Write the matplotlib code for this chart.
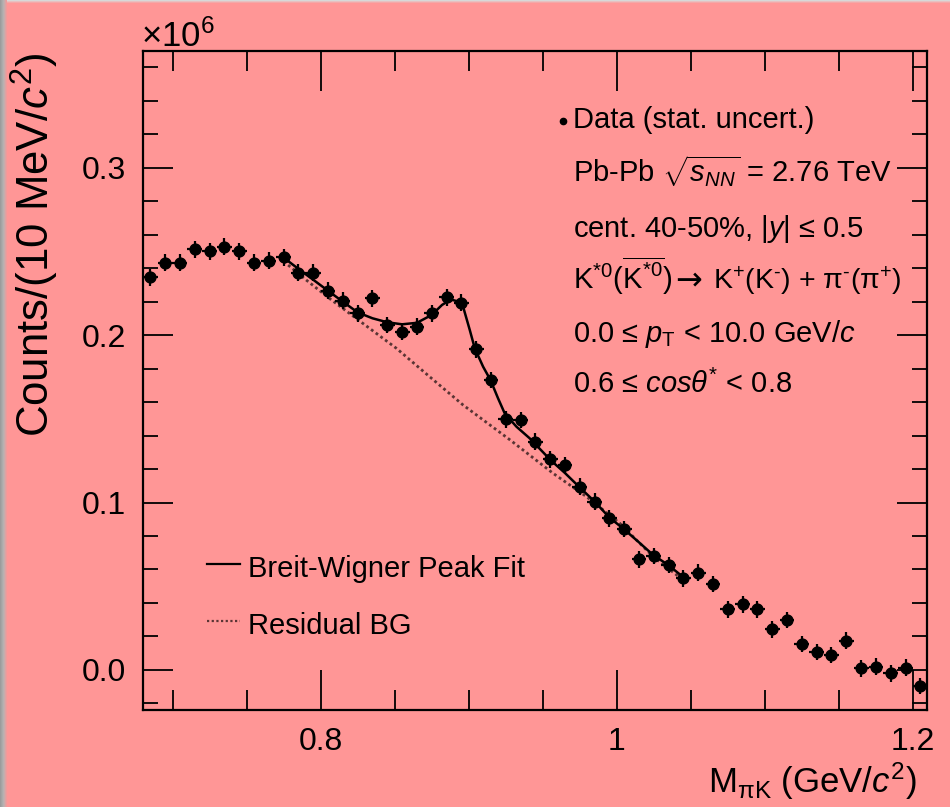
import numpy as np
import matplotlib
matplotlib.use('Agg')
import matplotlib.pyplot as plt
from matplotlib.ticker import FixedLocator, FixedFormatter
from matplotlib.patches import Rectangle

plt.rcParams['font.family'] = ['Liberation Sans', 'DejaVu Sans']
plt.rcParams['mathtext.fontset'] = 'custom'
plt.rcParams['mathtext.rm'] = 'Liberation Sans'
plt.rcParams['mathtext.it'] = 'Liberation Sans:italic'
plt.rcParams['mathtext.bf'] = 'Liberation Sans:bold'
plt.rcParams['mathtext.sf'] = 'Liberation Sans'

# ---------------- data (counts in units of 10^6) ----------------
mass = [0.685, 0.695, 0.705, 0.715, 0.725, 0.735, 0.745, 0.755, 0.765, 0.775,
        0.785, 0.795, 0.805, 0.815, 0.825, 0.835, 0.845, 0.855, 0.865, 0.875,
        0.885, 0.895, 0.905, 0.915, 0.925, 0.935, 0.945, 0.955, 0.965, 0.975,
        0.985, 0.995, 1.005, 1.015, 1.025, 1.035, 1.045, 1.055, 1.065, 1.075,
        1.085, 1.095, 1.105, 1.115, 1.125, 1.135, 1.145, 1.155, 1.165, 1.175,
        1.185, 1.195, 1.205]
counts = [0.2344, 0.2432, 0.2432, 0.2512, 0.2501, 0.2527, 0.2501, 0.2432, 0.2444, 0.2464,
          0.2372, 0.2372, 0.2264, 0.2205, 0.2129, 0.2219, 0.2060, 0.2020, 0.2050, 0.2129,
          0.2225, 0.2193, 0.1915, 0.1731, 0.1497, 0.1493, 0.1363, 0.1258, 0.1224, 0.1094,
          0.1005, 0.0906, 0.0842, 0.0661, 0.0681, 0.0627, 0.0547, 0.0581, 0.0513, 0.0362,
          0.0392, 0.0362, 0.0243, 0.0299, 0.0155, 0.0107, 0.0090, 0.0175, 0.0010, 0.0020,
          -0.0020, 0.0014, -0.0096]
stat_err = 0.005
bin_half_width = 0.005

fit_x = [0.775, 0.786, 0.795, 0.805, 0.815, 0.825, 0.835, 0.845, 0.855, 0.865,
         0.875, 0.882, 0.888, 0.893, 0.8962, 0.9007, 0.9041, 0.9097, 0.9147, 0.9198,
         0.9243, 0.9322, 0.9412, 0.9552, 0.965, 0.9745, 0.9851, 0.9948, 1.0049, 1.015,
         1.0245, 1.0347, 1.0459]
fit_y = [0.2462, 0.2388, 0.2330, 0.2264, 0.2199, 0.2135, 0.2100, 0.2076, 0.2064, 0.2073,
         0.2120, 0.2180, 0.2212, 0.2200, 0.2169, 0.2030, 0.1920, 0.1811, 0.1731, 0.1622,
         0.1532, 0.1453, 0.1383, 0.1254, 0.1176, 0.1094, 0.1005, 0.0912, 0.0840, 0.0762,
         0.0687, 0.0627, 0.0547]

bg_x = [0.775, 0.7903, 0.8066, 0.8286, 0.8511, 0.8736, 0.8962, 0.9277, 0.9570, 0.9795,
        1.0020, 1.0245, 1.0448]
bg_y = [0.2440, 0.2328, 0.2214, 0.2069, 0.1921, 0.1751, 0.1582, 0.1375, 0.1174, 0.1035,
        0.0876, 0.0677, 0.0537]

x_major = [0.8, 1.0, 1.2]
x_major_labels = ['0.8', '1', '1.2']
x_minor = [0.70, 0.75, 0.85, 0.90, 0.95, 1.05, 1.10, 1.15]
y_major = [0.0, 0.1, 0.2, 0.3]
y_major_labels = ['0.0', '0.1', '0.2', '0.3']
y_minor = [-0.02, 0.02, 0.04, 0.06, 0.08, 0.12, 0.14, 0.16, 0.18,
           0.22, 0.24, 0.26, 0.28, 0.32, 0.34, 0.36]

info_lines = [
    r"Data (stat. uncert.)",
    r"Pb-Pb $\sqrt{s_{NN}}$ = 2.76 TeV",
    r"cent. 40-50%, |$y$| ≤ 0.5",
    None,  # decay channel line drawn in pieces below
    r"0.0 ≤ $p_{\mathrm{T}}$ < 10.0 GeV/$c$",
    r"0.6 ≤ $cos\theta^{*}$ < 0.8",
]
decay_left = r"K$^{*0}$($\overline{\mathrm{K}^{*0}}$)"
decay_arrow = "→"
decay_right = r"K$^{+}$(K$^{\text{-}}$) + π$^{\text{-}}$(π$^{+}$)"

# ---------------- figure ----------------
W, H = 950, 807
fig = plt.figure(figsize=(W / 100, H / 100), dpi=100)
bg = '#ff9696'
fig.patch.set_facecolor(bg)


def fx(px):
    return px / W


def fy(py):
    return 1 - py / H


# grey shadow on left and top edges
left_cols = ['#9c9c9c', '#a4a4a4', '#adabab', '#b8b0b0', '#c8acac', '#dca4a4', '#ee9c9c']
for i, c in enumerate(left_cols):
    fig.add_artist(Rectangle((fx(i), 0), 1 / W, 1, transform=fig.transFigure,
                             color=c, lw=0, zorder=0))
top_cols = ['#d8d8d8', '#e8c0c0', '#f4a8a8']
for i, c in enumerate(top_cols):
    fig.add_artist(Rectangle((fx(len(left_cols)), fy(i + 1)), 1, 1 / H,
                             transform=fig.transFigure, color=c, lw=0, zorder=0))

ax = fig.add_axes([fx(143), fy(710), (927 - 143) / W, (710 - 51) / H])
ax.set_facecolor('none')
ax.set_xlim(0.68, 1.2095)
ax.set_ylim(-0.0239, 0.3696)

ax.errorbar(mass, counts, xerr=bin_half_width, yerr=stat_err, fmt='o',
            color='black', ms=7.8, elinewidth=1.6, capsize=0, zorder=3)
ax.plot(fit_x, fit_y, color='black', lw=1.8, zorder=4)
ax.plot(bg_x, bg_y, color='#5a3434', lw=2.0, ls=(0, (1, 1.1)), zorder=2)

for s in ax.spines.values():
    s.set_linewidth(1.6)
    s.set_color('black')

ax.xaxis.set_major_locator(FixedLocator(x_major))
ax.xaxis.set_major_formatter(FixedFormatter(x_major_labels))
ax.xaxis.set_minor_locator(FixedLocator(x_minor))
ax.yaxis.set_major_locator(FixedLocator(y_major))
ax.yaxis.set_major_formatter(FixedFormatter(y_major_labels))
ax.yaxis.set_minor_locator(FixedLocator(y_minor))

ax.tick_params(axis='x', which='both', direction='in', top=True, bottom=True,
               width=1.3, colors='black', labelsize=23, pad=12)
ax.tick_params(axis='x', which='major', length=28.8)
ax.tick_params(axis='x', which='minor', length=14.4)
ax.tick_params(axis='y', which='both', direction='in', left=True, right=True,
               width=1.3, colors='black', labelsize=23, pad=12)
ax.tick_params(axis='y', which='major', length=21.6)
ax.tick_params(axis='y', which='minor', length=10.8)

# exponent label
fig.text(fx(141), fy(47), r"×10$^{6}$", fontsize=25, ha='left', va='baseline')

# axis titles
fig.text(fx(917), fy(793), r"M$_{\mathrm{\pi K}}$ (GeV/$c^{2}$)", fontsize=25,
         ha='right', va='baseline')
fig.text(fx(35), fy(53), r"Counts/(10 MeV/$c^{2}$)", fontsize=31.5, rotation=90,
         ha='center', va='top')

# info block
baselines = [128, 182, 237, 289, 342, 393]
for txt, b in zip(info_lines, baselines):
    if txt is not None:
        fig.text(fx(573), fy(b), txt, fontsize=21, ha='left', va='baseline')
fig.text(fx(573), fy(289), decay_left, fontsize=21, ha='left', va='baseline')
fig.text(fx(675), fy(289), decay_arrow, fontsize=23, family='DejaVu Sans',
         ha='left', va='baseline')
fig.text(fx(713), fy(289), decay_right, fontsize=20.5, ha='left', va='baseline')
fig.add_artist(plt.Line2D([fx(563)], [fy(121)], marker='o', ms=4.5, color='black',
                          transform=fig.transFigure))

# legend for curves
fig.add_artist(plt.Line2D([fx(207), fx(240)], [fy(564), fy(564)], color='black', lw=1.6,
                          transform=fig.transFigure))
fig.add_artist(plt.Line2D([fx(207), fx(240)], [fy(621), fy(621)], color='#5a3434', lw=1.6,
                          ls=(0, (1, 1.1)), transform=fig.transFigure))
fig.text(fx(248), fy(577), "Breit-Wigner Peak Fit", fontsize=21, ha='left', va='baseline')
fig.text(fx(248), fy(634), "Residual BG", fontsize=21, ha='left', va='baseline')

fig.savefig('out.png', dpi=100, facecolor=fig.get_facecolor())
